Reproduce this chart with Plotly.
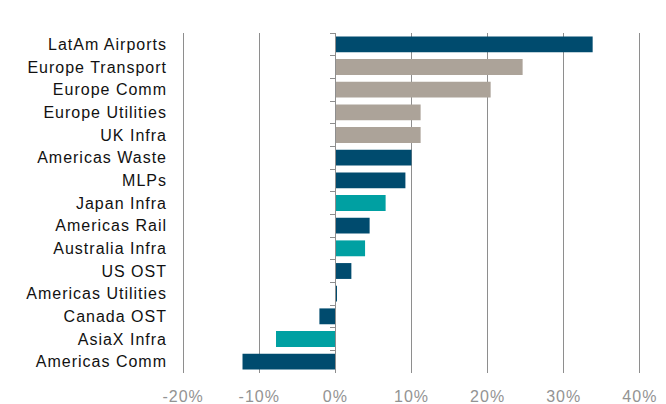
import plotly.graph_objects as go

categories = ["LatAm Airports", "Europe Transport", "Europe Comm", "Europe Utilities",
              "UK Infra", "Americas Waste", "MLPs", "Japan Infra", "Americas Rail",
              "Australia Infra", "US OST", "Americas Utilities", "Canada OST",
              "AsiaX Infra", "Americas Comm"]
values = [33.8, 24.6, 20.4, 11.2, 11.2, 10.0, 9.2, 6.6, 4.5, 3.9, 2.1, 0.2, -2.1, -7.8, -12.2]
groups = ["Americas", "Europe", "Europe", "Europe", "Europe", "Americas", "Americas", "Asia",
          "Americas", "Asia", "Americas", "Americas", "Americas", "Asia", "Americas"]
group_colors = {"Americas": "#004B6E", "Europe": "#ACA399", "Asia": "#00A0A2"}
x_ticks = [-20, -10, 0, 10, 20, 30, 40]
x_tick_labels = ["-20%", "-10%", "0%", "10%", "20%", "30%", "40%"]

fig = go.Figure()
fig.add_trace(go.Bar(
    y=categories, x=values, orientation="h",
    marker=dict(color=[group_colors[g] for g in groups], line=dict(width=0)),
    hoverinfo="x+y", showlegend=False,
))
# helper trace for the zero axis with boundary ticks
fig.add_trace(go.Scatter(
    y=categories, x=[0] * len(categories), yaxis="y2", mode="markers",
    marker=dict(opacity=0), hoverinfo="skip", showlegend=False,
))

n = len(categories)
y_range = [n - 0.5, -0.5]
xmin, xmax = -20.15, 40.15
grid_color = "#8E8E8E"
fig.update_layout(
    width=666, height=404,
    margin=dict(l=182, r=25, t=33, b=31),
    paper_bgcolor="white", plot_bgcolor="white",
    bargap=0.3,
    font=dict(family="Liberation Sans, Arial, sans-serif"),
    xaxis=dict(
        range=[xmin, xmax], tickvals=x_ticks, ticktext=x_tick_labels,
        showgrid=True, gridcolor=grid_color, gridwidth=1,
        zeroline=False, showline=False, ticks="", automargin=False,
        tickfont=dict(size=16, color="#939393"),
        ticklabelstandoff=12,
    ),
    yaxis=dict(
        categoryorder="array", categoryarray=categories, range=y_range,
        showgrid=False, zeroline=False, showline=False, ticks="", automargin=False,
        tickfont=dict(size=16, color="#111111"),
        ticklabelstandoff=14,
    ),
    yaxis2=dict(
        overlaying="y", categoryorder="array", categoryarray=categories, range=y_range,
        anchor="free", position=(0 - xmin) / (xmax - xmin),
        side="left", showticklabels=False, showgrid=False, zeroline=False,
        showline=True, linecolor=grid_color, linewidth=1, automargin=False,
        ticks="outside", ticklen=5, tickcolor=grid_color, tickson="boundaries",
    ),
)

post_js = """
document.body.style.margin = '0';
document.body.style.padding = '0';
var gd = document.getElementById('{plot_id}');
function spaceLabels() {
  gd.querySelectorAll('.ytick text, .xtick text').forEach(function (t) {
    t.style.letterSpacing = '1px';
  });
}
spaceLabels();
gd.on('plotly_afterplot', spaceLabels);
"""

fig.write_html("out.html", post_script=post_js, config={"displayModeBar": False})
